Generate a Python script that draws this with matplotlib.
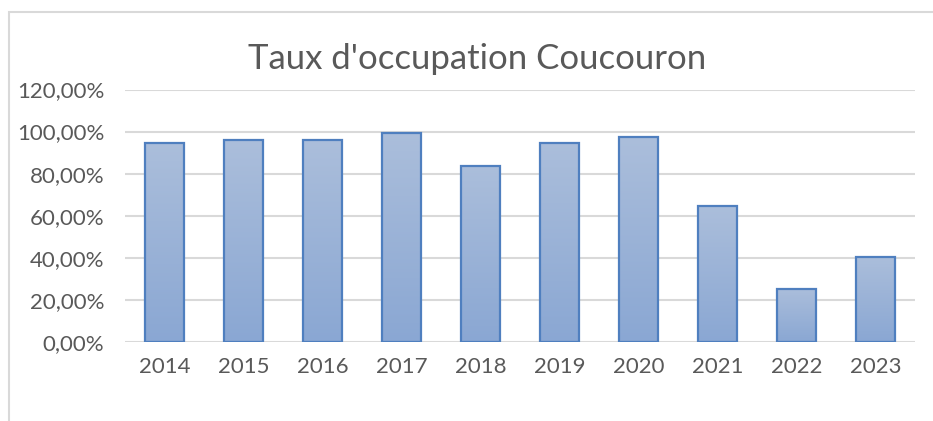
import matplotlib
matplotlib.use("Agg")
import matplotlib.pyplot as plt
import numpy as np
from matplotlib.patches import Rectangle
from matplotlib.colors import LinearSegmentedColormap

years = ['2014', '2015', '2016', '2017', '2018', '2019', '2020', '2021', '2022', '2023']
taux = [94.4, 96.0, 96.0, 99.5, 83.7, 94.8, 97.4, 64.6, 25.2, 40.4]  # en %
yticks = [0, 20, 40, 60, 80, 100, 120]
ytick_labels = ['0,00%', '20,00%', '40,00%', '60,00%', '80,00%', '100,00%', '120,00%']

plt.rcParams['font.family'] = ['Lato', 'DejaVu Sans']
txt_col = '#595959'

fig = plt.figure(figsize=(9.33, 4.21), dpi=100)
# cadre gris du graphique
fig.patches.append(Rectangle((8.5 / 933, -0.1), 1.2, (421 - 11.5) / 421 + 0.1,
                             transform=fig.transFigure, fill=False,
                             edgecolor='#d9d9d9', linewidth=1.5))

ax = fig.add_axes([125 / 933, (421 - 342) / 421, 790 / 933, (342 - 89.5) / 421])
x = np.arange(len(years))
bars = ax.bar(x, taux, width=0.5, facecolor='none', edgecolor='#4f7fbf',
              linewidth=1.6, zorder=3)

# degrade vertical dans chaque barre
cmap = LinearSegmentedColormap.from_list('grad', ['#8aa7d3', '#abbedb'])
grad = np.linspace(0, 1, 256).reshape(-1, 1)
for b in bars:
    im = ax.imshow(grad, cmap=cmap, origin='lower', aspect='auto',
                   extent=[b.get_x(), b.get_x() + b.get_width(), 0, b.get_height()],
                   zorder=2)
    im.set_clip_path(b)

ax.set_xlim(-0.5, len(years) - 0.5)
ax.set_ylim(0, 120)
ax.set_yticks(yticks)
ax.set_yticklabels(ytick_labels)
ax.set_xticks(x)
ax.set_xticklabels(years)
ax.tick_params(length=0, labelsize=16, colors=txt_col)
ax.tick_params(axis='x', pad=11)
ax.tick_params(axis='y', pad=15)
ax.grid(axis='y', color='#d9d9d9', linewidth=1.5, zorder=0)
ax.set_axisbelow(True)
for s in ax.spines.values():
    s.set_visible(False)

fig.text(477 / 933, 1 - 59 / 421, "Taux d'occupation Coucouron", ha='center', va='center',
         fontsize=25, color=txt_col)

fig.savefig('out.png', dpi=100)
